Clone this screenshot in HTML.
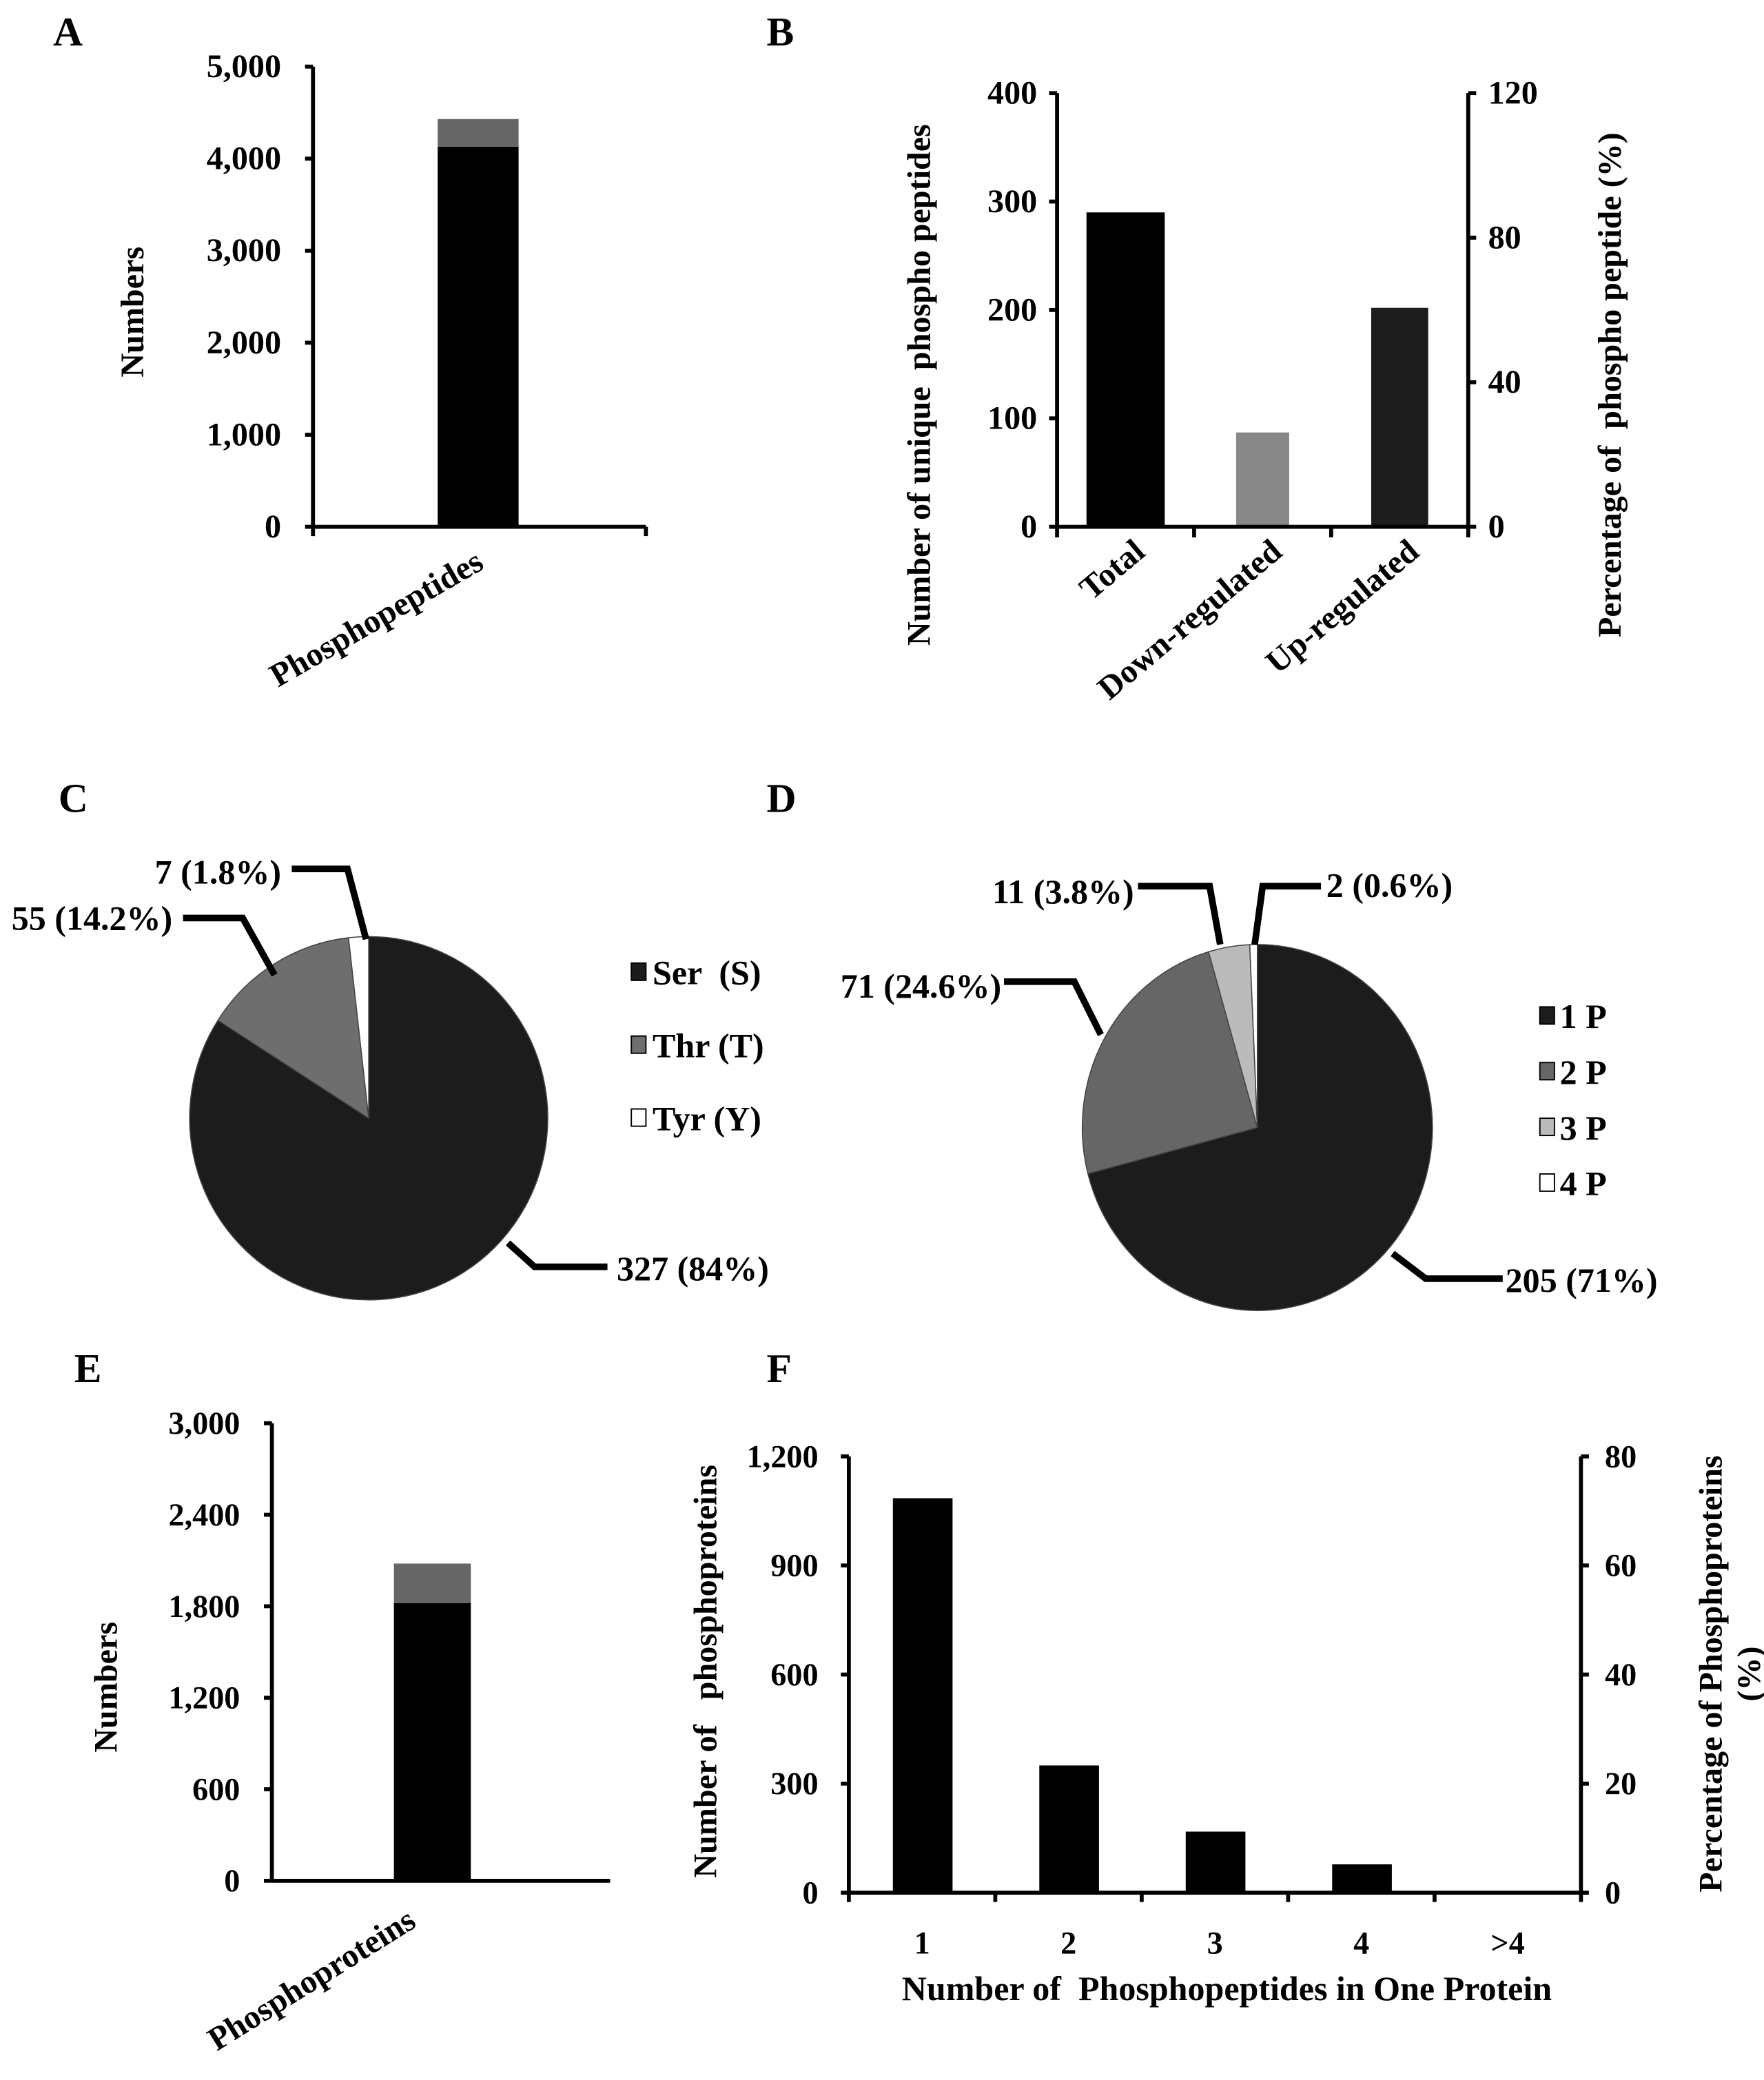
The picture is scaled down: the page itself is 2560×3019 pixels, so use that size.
<!DOCTYPE html>
<html><head><meta charset="utf-8"><style>
html,body{margin:0;padding:0;background:#fff}
svg{display:block}
text{font-family:"Liberation Serif",serif;font-weight:bold;fill:#000;white-space:pre}
</style></head><body>
<svg id="fig" xmlns="http://www.w3.org/2000/svg" width="2560" height="3019" viewBox="0 0 1330 1568">
<rect width="1330" height="1568" fill="#fff"/>
<g font-size="31">
<text x="40" y="34">A</text>
<text x="578" y="34">B</text>
<text x="44" y="612">C</text>
<text x="578" y="612">D</text>
<text x="56" y="1042">E</text>
<text x="578" y="1042">F</text>
</g>
<g id="A"></g>
<g id="B"></g>
<g id="C"></g>
<g id="D"></g>
<g id="E"></g>
<g id="F"></g>
</svg>
<script>
// Panel A
const aTicks = [0, 1000, 2000, 3000, 4000, 5000];
const aTickLabels = ["0", "1,000", "2,000", "3,000", "4,000", "5,000"];
const aSeries1 = [4130];
const aSeries2 = [300];
// Panel B
const bCategories = ["Total", "Down-regulated", "Up-regulated"];
const bValues = [290, 87, 202];
const bColors = ["#000", "#888", "#1c1c1c"];
const bLeftTicks = [0, 100, 200, 300, 400];
const bRightTicks = [0, 40, 80, 120];
// Panel C
const cLabels = ["Ser  (S)", "Thr (T)", "Tyr (Y)"];
const cValues = [327, 55, 7];
const cText = ["327 (84%)", "55 (14.2%)", "7 (1.8%)"];
// Panel D
const dLabels = ["1 P", "2 P", "3 P", "4 P"];
const dValues = [205, 71, 11, 2];
const dText = ["205 (71%)", "71 (24.6%)", "11 (3.8%)", "2 (0.6%)"];
// Panel E
const eTicks = [0, 600, 1200, 1800, 2400, 3000];
const eTickLabels = ["0", "600", "1,200", "1,800", "2,400", "3,000"];
const eSeries1 = [1820];
const eSeries2 = [260];
// Panel F
const fCategories = ["1", "2", "3", "4", ">4"];
const fValues = [1085, 350, 168, 78, 2];
const fLeftTicks = [0, 300, 600, 900, 1200];
const fLeftLabels = ["0", "300", "600", "900", "1,200"];
const fRightTicks = [0, 20, 40, 60, 80];

const NS = "http://www.w3.org/2000/svg";
function mk(parent, tag, attrs, txt) {
  const e = document.createElementNS(NS, tag);
  for (const k in attrs) e.setAttribute(k, attrs[k]);
  if (txt !== undefined) e.textContent = txt;
  parent.appendChild(e);
  return e;
}
function line(p, x1, y1, x2, y2, w, name) {
  const e = mk(p, "line", {x1, y1, x2, y2, stroke: "#000", "stroke-width": w || 3});
  
  
  return e;
}
function txt(p, x, y, s, size, anchor, name, extra) {
  const e = mk(p, "text", Object.assign({x, y, "font-size": size, "text-anchor": anchor || "start"}, extra || {}), s);
  
  
  return e;
}
function rect(p, x, y, w, h, fill, name, stroke) {
  const e = mk(p, "rect", {x, y, width: w, height: h, fill});
  if (stroke) { e.setAttribute("stroke", stroke); e.setAttribute("stroke-width", 1); }
  
  
  return e;
}

// ---- Panel A ----
(function () {
  const g = document.getElementById("A");
  const x0 = 236, x1 = 487, y0 = 397, yTop = 50, max = 5000;
  const y = v => y0 - v / max * (y0 - yTop);
  aTicks.forEach((t, i) => {
    line(g, x0 - 6, y(t), x0, y(t), 3, "y-tick");
    txt(g, 212, y(t) + 8, aTickLabels[i], 25, "end", "y-tick-label");
  });
  const bx = 330, bw = 61;
  rect(g, bx, y(aSeries1[0]), bw, y0 - y(aSeries1[0]), "#000", "bar-phosphopeptides-main");
  rect(g, bx, y(aSeries1[0] + aSeries2[0]), bw, y(aSeries1[0]) - y(aSeries1[0] + aSeries2[0]), "#666", "bar-phosphopeptides-top");
  line(g, x0, yTop, x0, y0 + 7, 3, "y-axis");
  line(g, x0, y0, x1, y0, 3, "x-axis");
  line(g, x1, y0, x1, y0 + 7, 3, "x-tick");
  txt(g, 0, 0, "Numbers", 25, "middle", "y-axis-title", {transform: "translate(108,235) rotate(-90)"});
  txt(g, 0, 0, "Phosphopeptides", 25, "end", "x-category-label", {transform: "translate(366,428) rotate(-30)"});
})();

// ---- Panel B ----
(function () {
  const g = document.getElementById("B");
  const x0 = 797, x1 = 1107, y0 = 397, yTop = 70;
  const y = v => y0 - v / 400 * (y0 - yTop);
  const yr = v => y0 - v / 120 * (y0 - yTop);
  bLeftTicks.forEach(t => {
    line(g, x0 - 6, y(t), x0, y(t), 3, "left-y-tick");
    txt(g, 782, y(t) + 8, String(t), 25, "end", "left-y-tick-label");
  });
  bRightTicks.forEach(t => {
    line(g, x1, yr(t), x1 + 6, yr(t), 3, "right-y-tick");
    txt(g, 1122, yr(t) + 8, String(t), 25, "start", "right-y-tick-label");
  });
  const step = (x1 - x0) / bCategories.length;
  const widths = [59, 40, 43];
  bCategories.forEach((c, i) => {
    const cx = x0 + step * (i + 0.5);
    const w = widths[i];
    rect(g, cx - w / 2, y(bValues[i]), w, y0 - y(bValues[i]), bColors[i], "bar-" + c.toLowerCase());
    txt(g, 0, 0, c, 25, "end", "x-category-label", {transform: `translate(${cx + 16},${418}) rotate(-40)`});
  });
  for (let i = 0; i <= bCategories.length; i++) line(g, x0 + step * i, y0, x0 + step * i, y0 + 8, 3, "x-tick");
  line(g, x0, yTop, x0, y0, 3, "left-y-axis");
  line(g, x1, yTop, x1, y0, 3, "right-y-axis");
  line(g, x0, y0, x1, y0, 3, "x-axis");
  txt(g, 0, 0, "Number of unique  phospho peptides", 25, "middle", "left-y-axis-title", {transform: "translate(701,290) rotate(-90)"});
  txt(g, 0, 0, "Percentage of  phospho peptide (%)", 25, "middle", "right-y-axis-title", {transform: "translate(1222,290) rotate(-90)"});
})();

// ---- Pies ----
function pie(g, cx, cy, rx, ry, values, colors, prefix) {
  const tot = values.reduce((a, b) => a + b, 0);
  let a = 0;
  values.forEach((v, i) => {
    const a2 = a + v / tot * 2 * Math.PI;
    const p1 = [cx + rx * Math.sin(a), cy - ry * Math.cos(a)];
    const p2 = [cx + rx * Math.sin(a2), cy - ry * Math.cos(a2)];
    const large = (a2 - a) > Math.PI ? 1 : 0;
    const e = mk(g, "path", {d: `M${cx},${cy} L${p1[0]},${p1[1]} A${rx},${ry} 0 ${large} 1 ${p2[0]},${p2[1]} Z`, fill: colors[i], stroke: "#444", "stroke-width": 0.8});
    
    
    a = a2;
  });
}
function leader(g, pts, name) {
  const e = mk(g, "polyline", {points: pts.map(p => p.join(",")).join(" "), fill: "none", stroke: "#000", "stroke-width": 5});
  
  
}
(function () {
  const g = document.getElementById("C");
  const colors = ["#1c1c1c", "#6e6e6e", "#fff"];
  pie(g, 278, 843, 135, 137, cValues, colors, "pie-c");
  leader(g, [[383, 937], [403, 955], [458, 955]], "leader-ser");
  leader(g, [[138, 692], [183, 692], [207, 735]], "leader-thr");
  leader(g, [[220, 655], [262, 655], [276, 708]], "leader-tyr");
  txt(g, 465, 965, cText[0], 26, "start", "label-ser");
  txt(g, 130, 701, cText[1], 26, "end", "label-thr");
  txt(g, 212, 666, cText[2], 26, "end", "label-tyr");
  const ly = [733, 788, 843];
  cLabels.forEach((l, i) => {
    rect(g, 476, ly[i] - 7, 11, 13, colors[i], "legend-swatch-" + i, "#000");
    txt(g, 492, ly[i] + 9, l, 26, "start", "legend-entry-" + i);
  });
})();
(function () {
  const g = document.getElementById("D");
  const colors = ["#1c1c1c", "#666", "#bbb", "#fff"];
  pie(g, 948, 850, 132, 138, dValues, colors, "pie-d");
  leader(g, [[1050, 945], [1075, 964], [1133, 964]], "leader-1p");
  leader(g, [[757, 740], [810, 740], [830, 780]], "leader-2p");
  leader(g, [[858, 668], [912, 668], [920, 712]], "leader-3p");
  leader(g, [[996, 668], [952, 668], [946, 712]], "leader-4p");
  txt(g, 1135, 974, dText[0], 26, "start", "label-1p");
  txt(g, 755, 752, dText[1], 26, "end", "label-2p");
  txt(g, 855, 681, dText[2], 26, "end", "label-3p");
  txt(g, 1000, 676, dText[3], 26, "start", "label-4p");
  const ly = [766, 808, 850, 892];
  dLabels.forEach((l, i) => {
    rect(g, 1161, ly[i] - 7, 11, 13, colors[i], "legend-swatch-" + i, "#000");
    txt(g, 1176, ly[i] + 9, l, 26, "start", "legend-entry-" + i);
  });
})();

// ---- Panel E ----
(function () {
  const g = document.getElementById("E");
  const x0 = 205, x1 = 460, y0 = 1418, yTop = 1073, max = 3000;
  const y = v => y0 - v / max * (y0 - yTop);
  eTicks.forEach((t, i) => {
    line(g, x0 - 6, y(t), x0, y(t), 3, "y-tick");
    txt(g, 181, y(t) + 8, eTickLabels[i], 24, "end", "y-tick-label");
  });
  const bx = 297, bw = 58;
  rect(g, bx, y(eSeries1[0]), bw, y0 - y(eSeries1[0]), "#000", "bar-phosphoproteins-main");
  rect(g, bx, y(eSeries1[0] + eSeries2[0]), bw, y(eSeries1[0]) - y(eSeries1[0] + eSeries2[0]), "#666", "bar-phosphoproteins-top");
  line(g, x0, yTop, x0, y0, 3, "y-axis");
  line(g, x0, y0, x1, y0, 3, "x-axis");
  txt(g, 0, 0, "Numbers", 25, "middle", "y-axis-title", {transform: "translate(88,1272) rotate(-90)"});
  txt(g, 0, 0, "Phosphoproteins", 25, "end", "x-category-label", {transform: "translate(315,1452) rotate(-32)"});
})();

// ---- Panel F ----
(function () {
  const g = document.getElementById("F");
  const x0 = 640, x1 = 1192, y0 = 1427, yTop = 1098;
  const y = v => y0 - v / 1200 * (y0 - yTop);
  const yr = v => y0 - v / 80 * (y0 - yTop);
  fLeftTicks.forEach((t, i) => {
    line(g, x0 - 6, y(t), x0, y(t), 3, "left-y-tick");
    txt(g, 617, y(t) + 8, fLeftLabels[i], 24, "end", "left-y-tick-label");
  });
  fRightTicks.forEach(t => {
    line(g, x1, yr(t), x1 + 6, yr(t), 3, "right-y-tick");
    txt(g, 1210, yr(t) + 8, String(t), 24, "start", "right-y-tick-label");
  });
  const step = (x1 - x0) / fCategories.length;
  fCategories.forEach((c, i) => {
    const cx = x0 + step * (i + 0.5);
    rect(g, cx - 22, y(fValues[i]), 45, y0 - y(fValues[i]), "#000", "bar-" + (i + 1));
    txt(g, cx, 1473, c, 24, "middle", "x-tick-label");
  });
  for (let i = 0; i <= fCategories.length; i++) line(g, x0 + step * i, y0, x0 + step * i, y0 + 7, 3, "x-tick");
  line(g, x0, yTop, x0, y0, 3, "left-y-axis");
  line(g, x1, yTop, x1, y0, 3, "right-y-axis");
  line(g, x0, y0, x1, y0, 3, "x-axis");
  txt(g, 925, 1508, "Number of  Phosphopeptides in One Protein", 26, "middle", "x-axis-title");
  txt(g, 0, 0, "Number of   phosphoproteins", 25, "middle", "left-y-axis-title", {transform: "translate(540,1260) rotate(-90)"});
  txt(g, 0, 0, "Percentage of Phosphoproteins", 25, "middle", "right-y-axis-title", {transform: "translate(1298,1262) rotate(-90)"});
  txt(g, 0, 0, "(%)", 25, "middle", "right-y-axis-title-unit", {transform: "translate(1327,1262) rotate(-90)"});
})();
</script>
</body></html>
